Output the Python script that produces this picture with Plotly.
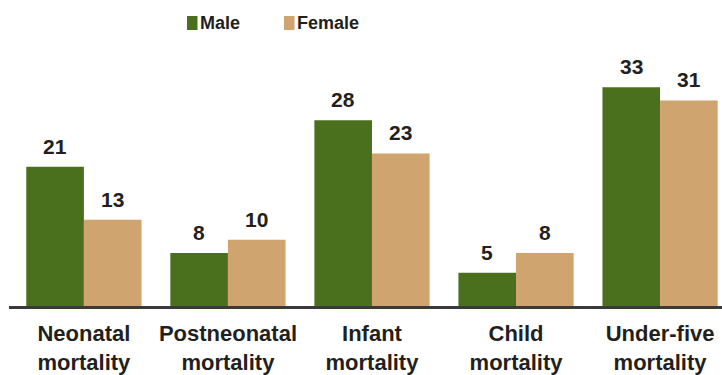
import plotly.graph_objects as go

categories = ["Neonatal<br>mortality", "Postneonatal<br>mortality", "Infant<br>mortality",
              "Child<br>mortality", "Under-five<br>mortality"]
male = [21, 8, 28, 5, 33]
female = [13, 10, 23, 8, 31]
series_names = ["Male", "Female"]

GREEN = "#4a701e"
TAN = "#cfa46e"
INK = "#231f20"
BODY_FONT = "Liberation Sans, Arial, sans-serif"

# plot-area geometry in pixels, used to place the legend in paper units
W, H = 722, 375
ML, MR, MT, MB = 9, 0, 60, 69
PW, PH = W - ML - MR, H - MT - MB


def px_x(p):
    return (p - ML) / PW


def px_y(p):
    return (H - MB - p) / PH


idx = list(range(len(categories)))

fig = go.Figure()
fig.add_trace(go.Bar(x=idx, y=male, name=series_names[0], marker_color=GREEN, marker_line_width=0))
fig.add_trace(go.Bar(x=idx, y=female, name=series_names[1], marker_color=TAN, marker_line_width=0))

# value labels above each bar
annotations = []
for i in idx:
    for off, val in ((-0.2, male[i]), (0.2, female[i])):
        annotations.append(dict(
            x=i + off, y=val, xref="x", yref="y", text=f"<b>{val}</b>",
            showarrow=False, yanchor="bottom", yshift=7,
            font=dict(family=BODY_FONT, size=21, color=INK)))

# legend: colour swatch followed by a bold label
shapes = []
for name, color, sx in zip(series_names, (GREEN, TAN), (187, 284)):
    shapes.append(dict(type="rect", xref="paper", yref="paper",
                       x0=px_x(sx), x1=px_x(sx + 10.5), y0=px_y(30), y1=px_y(16),
                       fillcolor=color, line_width=0))
    annotations.append(dict(x=px_x(sx + 11), y=px_y(23), xref="paper", yref="paper",
                            text=f"<b>{name}</b>", showarrow=False,
                            xanchor="left", yanchor="middle",
                            font=dict(family=BODY_FONT, size=18, color=INK)))

fig.update_layout(
    width=W, height=H,
    margin=dict(l=ML, r=MR, t=MT, b=MB),
    paper_bgcolor="white", plot_bgcolor="white",
    barmode="group", bargap=0.2, bargroupgap=0,
    showlegend=False,
    annotations=annotations, shapes=shapes,
)
fig.update_xaxes(
    range=[-0.52, 4.43], tickvals=idx,
    ticktext=[f"<b>{c}</b>" for c in categories],
    tickfont=dict(family=BODY_FONT, size=22, color=INK),
    ticklabelstandoff=6,
    showline=True, linecolor="#3a3a3a", linewidth=2.5,
    ticks="", showgrid=False, zeroline=False, fixedrange=True,
)
fig.update_yaxes(range=[0, 37.1], visible=False, showgrid=False, zeroline=False)

fig.write_html("out.html")
